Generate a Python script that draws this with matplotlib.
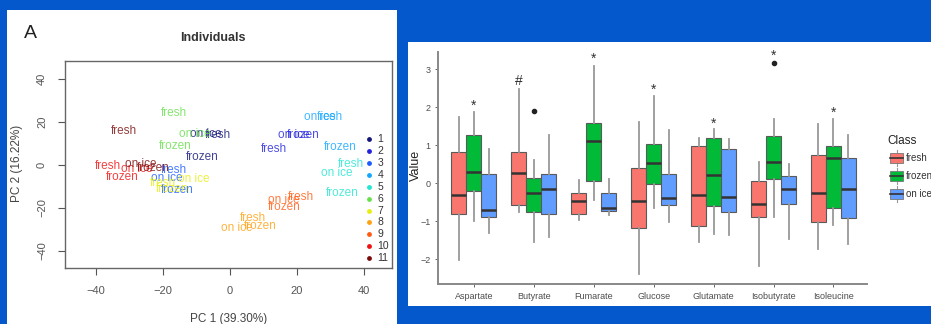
# PCA score plot (left) and per-metabolite boxplots by storage class (right)

import matplotlib
matplotlib.use('Agg')
import matplotlib.pyplot as plt
from matplotlib.patches import Rectangle
from matplotlib.lines import Line2D

plt.rcParams['font.family'] = ['Liberation Sans', 'DejaVu Sans']

# ---- PCA data: one label per sample (group 1-11, class) ----
groups = [1, 1, 1, 2, 2, 2, 3, 3, 3, 4, 4, 4, 5, 5, 5, 6, 6, 6,
          7, 7, 7, 8, 8, 8, 9, 9, 9, 10, 10, 10, 11, 11, 11]
sample_class = ['fresh', 'frozen', 'on ice'] * 11
pc1 = [-3.5, -8.4, -7.2, 13.1, 21.8, 18.9, -16.9, -15.9, -18.9,
       29.8, 33.0, 26.8, 36.2, 33.4, 32.0, -16.9, -16.4, -10.4,
       -19.9, -17.4, -10.9, 7.0, 9.0, 2.0, 21.3, 16.1, 16.1,
       -36.4, -32.3, -27.8, -31.8, -22.8, -26.8]
pc2 = [14.0, 3.5, 14.6, 7.4, 13.9, 13.8, -2.4, -11.7, -6.3,
       22.5, 8.5, 22.1, 0.4, -13.3, -3.6, 24.0, 8.9, 14.2,
       -8.6, -11.2, -6.6, -24.9, -28.5, -29.3, -14.8, -19.5, -16.4,
       -0.4, -5.5, -1.9, 15.9, -1.6, 0.4]
group_colors = ['#14147a', '#2222dd', '#1a5cff', '#12a6ff', '#22e6d2', '#66e04a',
                '#e6ee10', '#ffa010', '#ff5a10', '#f01010', '#7a0a0a']

# ---- boxplot summary stats per metabolite ----
metabolites = ['Aspartate', 'Butyrate', 'Fumarate', 'Glucose',
               'Glutamate', 'Isobutyrate', 'Isoleucine']
classes = ['fresh', 'frozen', 'on ice']
class_colors = ['#F8766D', '#00BA38', '#619CFF']

fresh_lo = [-2.01, -0.75, -0.97, -2.39, -1.54, -2.18, -1.74]
fresh_q1 = [-0.80, -0.58, -0.80, -1.18, -1.12, -0.89, -1.02]
fresh_med = [-0.32, 0.26, -0.47, -0.47, -0.32, -0.54, -0.27]
fresh_q3 = [0.81, 0.82, -0.25, 0.41, 0.97, 0.05, 0.74]
fresh_hi = [1.75, 2.47, 0.08, 1.60, 1.18, 0.56, 1.57]

frozen_lo = [-1.00, -1.54, -0.43, -0.64, -1.33, -0.90, -1.09]
frozen_q1 = [-0.20, -0.75, 0.05, -0.02, -0.61, 0.12, -0.66]
frozen_med = [0.30, -0.26, 1.11, 0.53, 0.21, 0.56, 0.67]
frozen_q3 = [1.26, 0.14, 1.59, 1.02, 1.18, 1.25, 0.98]
frozen_hi = [1.88, 0.60, 3.09, 2.30, 1.42, 1.68, 1.70]

onice_lo = [-1.31, -1.41, -0.84, -1.02, -1.37, -1.47, -1.61]
onice_q1 = [-0.90, -0.82, -0.73, -0.56, -0.76, -0.55, -0.92]
onice_med = [-0.70, -0.16, -0.65, -0.38, -0.37, -0.16, -0.14]
onice_q3 = [0.25, 0.25, -0.27, 0.25, 0.91, 0.18, 0.65]
onice_hi = [0.89, 1.28, 0.12, 1.41, 1.16, 0.51, 1.28]

frozen_fliers = [[], [1.89], [], [], [], [3.17], []]

# significance marks: (class index, symbol, y)
sig_class = [1, 0, 1, 1, 1, 1, 1]
sig_symbol = ['*', '#', '*', '*', '*', '*', '*']
sig_y = [2.04, 2.68, 3.26, 2.46, 1.57, 3.35, 1.86]

fig = plt.figure(figsize=(9.31, 3.24), dpi=100)
fig.patch.set_facecolor('#0558CC')

# white panels behind each plot
fig.add_artist(Rectangle((7/931, 0), 390/931, 1 - 10/324, transform=fig.transFigure,
                         facecolor='white', edgecolor='none', zorder=-1))
fig.add_artist(Rectangle((408/931, 1 - 306/324), 523/931, 264/324, transform=fig.transFigure,
                         facecolor='white', edgecolor='none', zorder=-1))

# ---------------- left: PCA individuals ----------------
ax1 = fig.add_axes([65/931, 56/324, 327/931, 207/324])
for x, y, c, g in zip(pc1, pc2, sample_class, groups):
    ax1.text(x, y, c, color=group_colors[g - 1], alpha=0.8, fontsize=8.5,
             ha='center', va='center')

# group legend (1-11) inside the plot
for i, col in enumerate(group_colors):
    ly = 12 - i * 5.55
    ax1.scatter([41.5], [ly], s=6, color=col, zorder=3)
    ax1.text(44.0, ly, str(i + 1), fontsize=7.5, color='#333333', va='center', ha='left')

ax1.set_xlim(-49.3, 48.4)
ax1.set_ylim(-48.1, 48.4)
ax1.set_xticks([-40, -20, 0, 20, 40])
ax1.set_yticks([-40, -20, 0, 20, 40])
ax1.tick_params(axis='both', labelsize=8, colors='#555555', length=5, pad=8)
ax1.tick_params(axis='y', labelrotation=90)
for lbl in ax1.get_yticklabels():
    lbl.set_va('center')
for sp in ax1.spines.values():
    sp.set_color('#666666')
    sp.set_linewidth(1.0)

fig.text(30/931, 1 - 33/324, 'A', fontsize=14, ha='center', va='center', color='#222222')
fig.text(213/931, 1 - 38/324, 'Individuals', fontsize=9, fontweight='bold',
         ha='center', va='center', color='#333333')
fig.text(229/931, 1 - 313/324, 'PC 1 (39.30%)', fontsize=8.5, ha='center', va='top',
         color='#444444')
fig.text(17/931, 1 - 163/324, 'PC 2 (16.22%)', fontsize=8.5, ha='center', va='center',
         rotation=90, color='#444444')

# ---------------- right: boxplots ----------------
ax2 = fig.add_axes([438/931, 40/324, 429/931, 232/324])
class_stats = [
    (fresh_lo, fresh_q1, fresh_med, fresh_q3, fresh_hi),
    (frozen_lo, frozen_q1, frozen_med, frozen_q3, frozen_hi),
    (onice_lo, onice_q1, onice_med, onice_q3, onice_hi),
]
offsets = [-0.25, 0.0, 0.25]
for ci, (lo, q1, med, q3, hi) in enumerate(class_stats):
    stats = []
    for mi in range(len(metabolites)):
        stats.append({'whislo': lo[mi], 'q1': q1[mi], 'med': med[mi], 'q3': q3[mi],
                      'whishi': hi[mi],
                      'fliers': frozen_fliers[mi] if ci == 1 else []})
    pos = [mi + 1 + offsets[ci] for mi in range(len(metabolites))]
    ax2.bxp(stats, positions=pos, widths=0.25, patch_artist=True, showcaps=False,
            boxprops=dict(facecolor=class_colors[ci], edgecolor='#5a5a5a', linewidth=0.8),
            whiskerprops=dict(color='#999999', linewidth=1.3),
            medianprops=dict(color='#333333', linewidth=1.8),
            flierprops=dict(marker='o', markersize=3, markerfacecolor='#222222',
                            markeredgecolor='#222222'))

for mi in range(len(metabolites)):
    ax2.text(mi + 1 + offsets[sig_class[mi]], sig_y[mi], sig_symbol[mi],
             fontsize=10, ha='center', va='center', color='#333333')

ax2.set_xlim(0.4, 7.56)
ax2.set_ylim(-2.65, 3.45)
ax2.set_xticks(range(1, len(metabolites) + 1))
ax2.set_xticklabels(metabolites)
ax2.set_yticks([-2, -1, 0, 1, 2, 3])
ax2.tick_params(axis='both', labelsize=6.5, colors='#4D4D4D', length=2.5, width=0.6, pad=3)
for lbl in ax2.get_xticklabels() + ax2.get_yticklabels():
    lbl.set_color('#4D4D4D')
ax2.spines['top'].set_visible(False)
ax2.spines['right'].set_visible(False)
for sp in ['left', 'bottom']:
    ax2.spines[sp].set_color('#888888')
    ax2.spines[sp].set_linewidth(1.4)

fig.text(416/931, 1 - 165/324, 'Value', fontsize=9, ha='center', va='center',
         rotation=90, color='#222222')

# legend for Class (runs off the right edge like the original)
fig.text(887/931, 1 - 141/324, 'Class', fontsize=8.5, ha='left', va='center', color='#222222')
for ci, (name, col) in enumerate(zip(classes, class_colors)):
    cy = 158 + ci * 18
    fig.add_artist(Rectangle((890/931, 1 - (cy + 5)/324), 13/931, 10/324,
                             transform=fig.transFigure, facecolor=col,
                             edgecolor='#777777', linewidth=0.6))
    fig.add_artist(Line2D([890/931, 903/931], [1 - cy/324, 1 - cy/324],
                          transform=fig.transFigure, color='#333333', linewidth=1.2))
    fig.add_artist(Line2D([896.5/931, 896.5/931], [1 - (cy - 8)/324, 1 - (cy + 8)/324],
                          transform=fig.transFigure, color='#999999', linewidth=0.8, zorder=0))
    fig.text(906/931, 1 - cy/324, name, fontsize=7, ha='left', va='center', color='#333333')

fig.savefig('out.png', dpi=100, facecolor=fig.get_facecolor())
